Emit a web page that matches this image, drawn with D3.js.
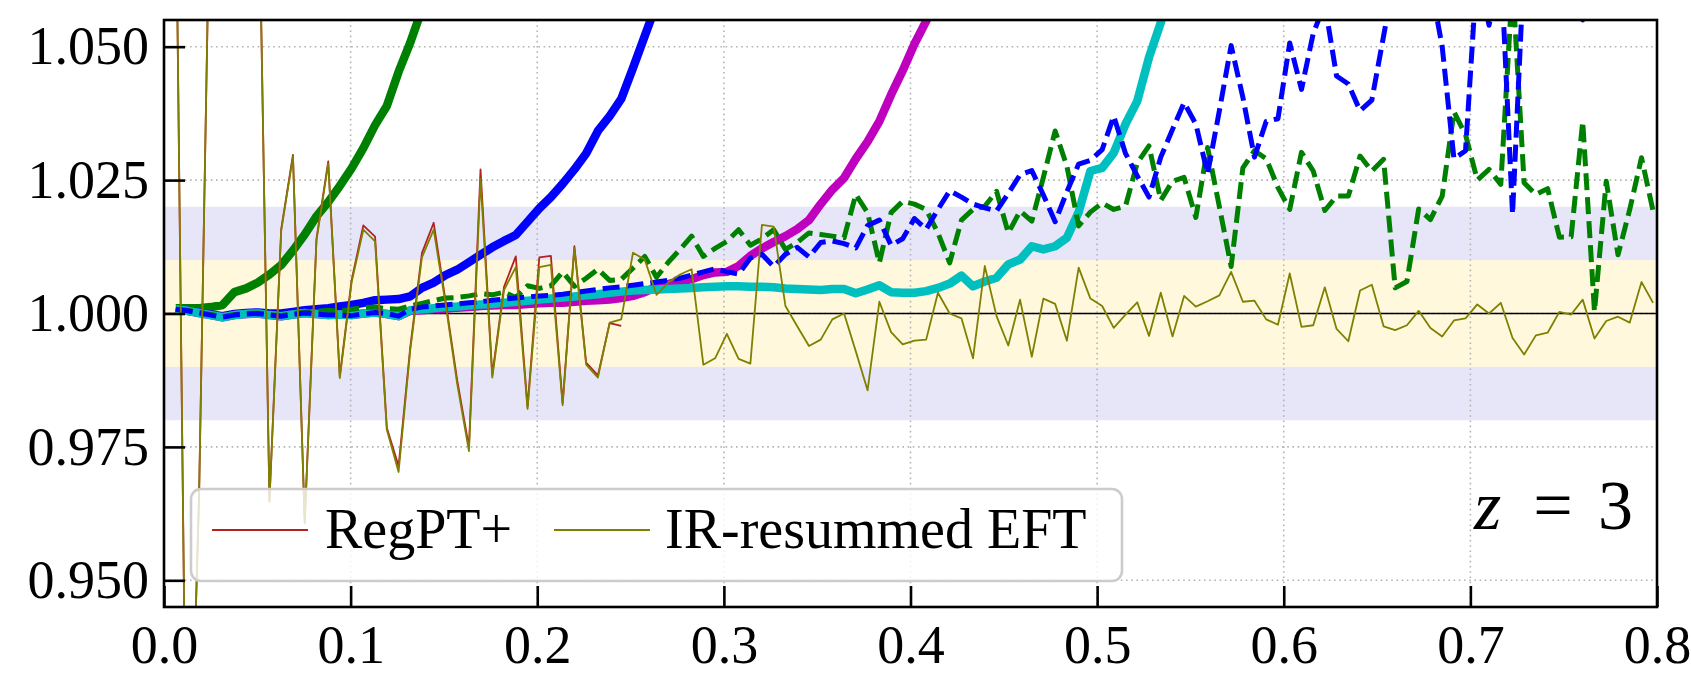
<!DOCTYPE html>
<html>
<head>
<meta charset="utf-8">
<script src="https://cdn.jsdelivr.net/npm/d3@7"></script>
<style>
  body { margin: 0; background: #fff; }
  text { font-family: "Liberation Serif", "Times New Roman", serif; fill: #000; }
</style>
</head>
<body>
<svg id="chart"></svg>
<script>
// k bins (h/Mpc)
const k = [0.0063,0.0126,0.0188,0.0251,0.0314,0.0377,0.0440,0.0503,0.0565,0.0628,
  0.0691,0.0754,0.0817,0.0880,0.0942,0.1005,0.1068,0.1131,0.1194,0.1257,
  0.1319,0.1382,0.1445,0.1508,0.1571,0.1634,0.1696,0.1759,0.1822,0.1885,
  0.1948,0.2011,0.2073,0.2136,0.2199,0.2262,0.2325,0.2388,0.2450,0.2513,
  0.2576,0.2639,0.2702,0.2765,0.2827,0.2890,0.2953,0.3016,0.3079,0.3142,
  0.3204,0.3267,0.3330,0.3393,0.3456,0.3519,0.3581,0.3644,0.3707,0.3770,
  0.3833,0.3896,0.3958,0.4021,0.4084,0.4147,0.4210,0.4273,0.4335,0.4398,
  0.4461,0.4524,0.4587,0.4650,0.4712,0.4775,0.4838,0.4901,0.4964,0.5027,
  0.5089,0.5152,0.5215,0.5278,0.5341,0.5404,0.5466,0.5529,0.5592,0.5655,
  0.5718,0.5781,0.5843,0.5906,0.5969,0.6032,0.6095,0.6158,0.6220,0.6283,
  0.6346,0.6409,0.6472,0.6535,0.6597,0.6660,0.6723,0.6786,0.6849,0.6912,
  0.6974,0.7037,0.7100,0.7163,0.7226,0.7288,0.7351,0.7414,0.7477,0.7540,
  0.7602,0.7665,0.7728,0.7791,0.7854,0.7917,0.7979];

// thick solid curves (they leave the panel at the top)
const greenThick = [1.0010,1.0010,1.0010,1.0012,1.0016,1.0040,1.0047,1.0058,1.0073,1.0091,
  1.0118,1.0148,1.0182,1.0209,1.0239,1.0272,1.0310,1.0353,1.0389,1.0453,
  1.0507,1.0570];
const blueThick = [1.0008,1.0005,1.0002,0.9998,0.9995,0.9999,1.0001,1.0002,1.0000,1.0000,
  1.0003,1.0006,1.0008,1.0010,1.0013,1.0016,1.0020,1.0025,1.0026,1.0027,
  1.0032,1.0048,1.0058,1.0072,1.0082,1.0096,1.0110,1.0124,1.0136,1.0147,
  1.0172,1.0197,1.0218,1.0243,1.0270,1.0300,1.0342,1.0370,1.0402,1.0460,
  1.0520,1.0580];
const magentaThick = [1.0008,1.0005,1.0001,0.9997,0.9993,0.9997,0.9999,1.0000,0.9997,0.9995,
  0.9998,1.0001,0.9999,0.9997,0.9998,0.9997,1.0000,1.0002,0.9999,0.9995,
  1.0005,1.0006,1.0008,1.0009,1.0011,1.0012,1.0014,1.0015,1.0016,1.0016,
  1.0018,1.0019,1.0020,1.0020,1.0022,1.0024,1.0025,1.0026,1.0029,1.0033,
  1.0040,1.0050,1.0055,1.0061,1.0064,1.0072,1.0077,1.0078,1.0089,1.0108,
  1.0122,1.0134,1.0145,1.0158,1.0175,1.0205,1.0232,1.0254,1.0290,1.0322,
  1.0360,1.0410,1.0455,1.0505,1.0548,1.0600];
const cyanThick = [1.0008,1.0005,1.0001,0.9997,0.9993,0.9997,0.9999,1.0000,0.9997,0.9995,
  0.9998,1.0001,0.9999,0.9997,0.9998,0.9997,1.0000,1.0002,0.9999,0.9995,
  1.0006,1.0008,1.0010,1.0012,1.0013,1.0015,1.0017,1.0018,1.0020,1.0022,
  1.0024,1.0026,1.0028,1.0030,1.0032,1.0034,1.0036,1.0039,1.0041,1.0043,
  1.0044,1.0045,1.0046,1.0047,1.0048,1.0049,1.0050,1.0051,1.0051,1.0050,
  1.0050,1.0049,1.0047,1.0046,1.0045,1.0044,1.0046,1.0046,1.0038,1.0045,
  1.0053,1.0040,1.0039,1.0039,1.0042,1.0048,1.0056,1.0071,1.0051,1.0060,
  1.0067,1.0092,1.0101,1.0126,1.0120,1.0126,1.0142,1.0190,1.0267,1.0273,
  1.0301,1.0355,1.0398,1.0480,1.0545,1.0620];

// dashed curves
const blueDashed = [1.0008,1.0005,1.0001,0.9997,0.9993,0.9997,0.9999,1.0000,0.9997,0.9995,
  0.9998,1.0001,0.9999,0.9997,0.9997,0.9996,0.9999,1.0002,1.0000,0.9995,
  1.0008,1.0012,1.0014,1.0016,1.0018,1.0020,1.0022,1.0025,1.0027,1.0029,
  1.0031,1.0033,1.0034,1.0036,1.0039,1.0042,1.0045,1.0048,1.0050,1.0053,
  1.0056,1.0059,1.0062,1.0066,1.0072,1.0078,1.0084,1.0078,1.0074,1.0104,
  1.0111,1.0088,1.0111,1.0124,1.0106,1.0133,1.0136,1.0131,1.0123,1.0165,
  1.0175,1.0128,1.0140,1.0178,1.0158,1.0195,1.0230,1.0218,1.0205,1.0198,
  1.0192,1.0225,1.0260,1.0268,1.0222,1.0172,1.0228,1.0280,1.0287,1.0307,
  1.0370,1.0300,1.0258,1.0218,1.0293,1.0345,1.0395,1.0355,1.0262,1.0380,
  1.0502,1.0405,1.0293,1.0360,1.0365,1.0507,1.0420,1.0525,1.0580,1.0445,
  1.0430,1.0380,1.0400,1.0520,1.0640,1.0700,1.0720,1.0620,1.0500,1.0290,
  1.0305,1.0650,1.0540,1.0660,1.0186,1.0660,1.0750,1.0800,1.0780,1.0700,
  1.0550,1.0700,1.0800,1.0850,1.0800,1.0850,1.0900];
const greenDashed = [1.0008,1.0006,1.0002,0.9998,0.9994,0.9998,1.0000,1.0001,0.9998,0.9996,
  1.0000,1.0003,1.0004,1.0006,1.0004,1.0008,1.0011,1.0012,1.0009,1.0008,
  1.0014,1.0019,1.0024,1.0029,1.0030,1.0033,1.0037,1.0035,1.0040,1.0030,
  1.0052,1.0047,1.0052,1.0078,1.0051,1.0066,1.0083,1.0062,1.0064,1.0085,
  1.0107,1.0068,1.0096,1.0120,1.0145,1.0107,1.0122,1.0135,1.0157,1.0128,
  1.0140,1.0157,1.0120,1.0133,1.0151,1.0148,1.0145,1.0142,1.0223,1.0189,
  1.0095,1.0189,1.0210,1.0205,1.0195,1.0151,1.0095,1.0175,1.0195,1.0201,
  1.0229,1.0151,1.0192,1.0173,1.0255,1.0342,1.0276,1.0164,1.0190,1.0207,
  1.0195,1.0201,1.0282,1.0314,1.0212,1.0248,1.0255,1.0180,1.0311,1.0200,
  1.0088,1.0273,1.0305,1.0290,1.0236,1.0195,1.0302,1.0267,1.0193,1.0220,
  1.0220,1.0295,1.0267,1.0289,1.0048,1.0060,1.0196,1.0176,1.0220,1.0378,
  1.0335,1.0250,1.0270,1.0242,1.0620,1.0245,1.0223,1.0234,1.0143,1.0144,
  1.0360,1.0004,1.0248,1.0110,1.0195,1.0292,1.0192];

// thin curves with legend entries
const regpt = [1.083,0.889,0.966,1.090,1.100,1.110,1.100,1.091,0.9650,1.0158,
  1.0297,0.9610,1.0140,1.0285,0.9882,1.0062,1.0165,1.0144,0.9786,0.9714,
  0.9935,1.0113,1.0170,1.0025,0.9875,0.9750,1.0270,0.9885,1.0050,1.0107,
  0.9825,1.0105,1.0108,0.9832,1.0126,0.9908,0.9884,0.9982,0.9977];
const irEft = [1.083,0.889,0.966,1.090,1.100,1.110,1.100,1.091,0.9647,1.0155,
  1.0294,0.9607,1.0137,1.0281,0.9879,1.0058,1.0157,1.0135,0.9782,0.9703,
  0.9930,1.0105,1.0157,1.0020,0.9868,0.9742,1.0252,0.9880,1.0044,1.0087,
  0.9821,1.0087,1.0091,0.9828,1.0123,0.9904,0.9880,0.9983,0.9989,1.0114,
  1.0101,1.0035,1.0058,1.0073,1.0083,0.9904,0.9916,0.9962,0.9915,0.9906,
  1.0166,1.0163,1.0014,0.9976,0.9939,0.9951,0.9989,1.0000,0.9929,0.9856,
  1.0022,0.9965,0.9942,0.9949,0.9951,1.0039,1.0000,0.9991,0.9916,1.0089,
  0.9995,0.9940,1.0026,0.9919,1.0028,1.0018,0.9949,1.0086,1.0028,1.0014,
  0.9973,0.9998,1.0021,0.9958,1.0039,0.9957,1.0033,1.0013,1.0023,1.0034,
  1.0078,1.0022,1.0024,0.9989,0.9979,1.0075,0.9975,0.9978,1.0049,0.9971,
  0.9948,1.0043,1.0054,0.9976,0.9969,0.9978,1.0005,0.9973,0.9957,0.9987,
  0.9991,1.0017,1.0000,1.0020,0.9954,0.9923,0.9959,0.9964,1.0003,0.9998,
  1.0026,0.9953,0.9986,0.9994,0.9983,1.0059,1.0020];

const xTicks = [0.0, 0.1, 0.2, 0.3, 0.4, 0.5, 0.6, 0.7, 0.8];
const yTicks = [0.950, 0.975, 1.000, 1.025, 1.050];
const bandOuter = [0.98, 1.02];
const bandInner = [0.99, 1.01];
const legendLabels = ["RegPT+", "IR-resummed EFT"];
const panelLabel = ["z", "=", "3"];

const W = 1691, H = 675;
const margin = {top: 20, right: 34, bottom: 68, left: 164};
const width = W - margin.left - margin.right,
    height = H - margin.top - margin.bottom;

const x = d3.scaleLinear().domain([0, 0.8]).range([0, width]);
const y = d3.scaleLinear().domain([0.945, 1.055]).range([height, 0]);

const svg = d3.select("#chart")
    .attr("width", W)
    .attr("height", H)
    .append("g")
    .attr("transform", "translate(" + margin.left + "," + margin.top + ")");

svg.append("defs").append("clipPath")
    .attr("id", "clip")
    .append("rect")
    .attr("width", width)
    .attr("height", height);

// shaded bands
svg.append("rect")
    .attr("x", 0).attr("width", width)
    .attr("y", y(bandOuter[1])).attr("height", y(bandOuter[0]) - y(bandOuter[1]))
    .attr("fill", "#e6e6f8");
svg.append("rect")
    .attr("x", 0).attr("width", width)
    .attr("y", y(bandInner[1])).attr("height", y(bandInner[0]) - y(bandInner[1]))
    .attr("fill", "#fff8dd");

// dotted grid
const grid = svg.append("g").attr("stroke", "#b4b4b4").attr("stroke-width", 1.6)
    .attr("stroke-dasharray", "1.6,3.6");
grid.selectAll(".gx").data(xTicks.slice(1, -1)).enter().append("line")
    .attr("x1", d => x(d)).attr("x2", d => x(d))
    .attr("y1", 0).attr("y2", height);
grid.selectAll(".gy").data(yTicks).enter().append("line")
    .attr("x1", 0).attr("x2", width)
    .attr("y1", d => y(d)).attr("y2", d => y(d));

// reference line at unity
svg.append("line")
    .attr("x1", 0).attr("x2", width)
    .attr("y1", y(1)).attr("y2", y(1))
    .attr("stroke", "#000").attr("stroke-width", 1.6);

const line = d3.line()
    .x((d, i) => x(k[i]))
    .y(d => y(d));

const body = svg.append("g").attr("clip-path", "url(#clip)");

const series = [
  {data: greenThick, color: "#008000", w: 8.5},
  {data: blueThick, color: "#0000ff", w: 8.5},
  {data: magentaThick, color: "#bf00bf", w: 8.5},
  {data: cyanThick, color: "#00bfbf", w: 8.5},
  {data: greenDashed, color: "#008000", w: 5, dash: "17,7"},
  {data: blueDashed, color: "#0000ff", w: 5, dash: "17,7"},
  {data: regpt, color: "#b22222", w: 1.8},
  {data: irEft, color: "#808000", w: 1.8}
];

series.forEach(s => {
  body.append("path")
      .datum(s.data)
      .attr("d", line)
      .attr("fill", "none")
      .attr("stroke", s.color)
      .attr("stroke-width", s.w)
      .attr("stroke-linejoin", "round")
      .attr("stroke-dasharray", s.dash || null);
});

// axes, ticks pointing inwards
const xAxis = svg.append("g")
    .attr("transform", "translate(0," + height + ")")
    .call(d3.axisBottom(x).tickValues(xTicks).tickFormat(d3.format(".1f"))
      .tickSizeInner(-21).tickSizeOuter(0).tickPadding(18));
const yAxis = svg.append("g")
    .call(d3.axisLeft(y).tickValues(yTicks).tickFormat(d3.format(".3f"))
      .tickSizeInner(-21).tickSizeOuter(0).tickPadding(15));
[xAxis, yAxis].forEach(a => {
  a.select(".domain").remove();
  a.selectAll(".tick line").attr("stroke", "#000").attr("stroke-width", 2.6);
  a.selectAll("text").style("font-family", "'Liberation Serif', serif")
      .style("font-size", "54px").attr("fill", "#000");
});

// frame
svg.append("rect")
    .attr("width", width).attr("height", height)
    .attr("fill", "none").attr("stroke", "#000").attr("stroke-width", 2.6);

// legend
const legend = svg.append("g").attr("transform", "translate(" + (191 - margin.left) + "," + (489 - margin.top) + ")");
legend.append("rect")
    .attr("width", 931).attr("height", 92).attr("rx", 10)
    .attr("fill", "#fff").attr("fill-opacity", 0.8)
    .attr("stroke", "#cccccc").attr("stroke-width", 2.6);
const legendColors = ["#b22222", "#808000"];
const legendX = [21, 363];
const textX = [134, 474];
legendLabels.forEach((lab, i) => {
  legend.append("line")
      .attr("x1", legendX[i]).attr("x2", legendX[i] + 96)
      .attr("y1", 41).attr("y2", 41)
      .attr("stroke", legendColors[i]).attr("stroke-width", 1.8);
  legend.append("text")
      .attr("x", textX[i]).attr("y", 59)
      .style("font-size", "56px")
      .text(lab);
});

// redshift label
const zl = svg.append("g").style("font-size", "70px");
zl.append("text").attr("x", 1474 - margin.left).attr("y", 529 - margin.top)
    .style("font-style", "italic").text(panelLabel[0]);
zl.append("text").attr("x", 1553 - margin.left).attr("y", 529 - margin.top)
    .attr("text-anchor", "middle").text(panelLabel[1]);
zl.append("text").attr("x", 1598 - margin.left).attr("y", 529 - margin.top)
    .text(panelLabel[2]);
</script>
</body>
</html>
